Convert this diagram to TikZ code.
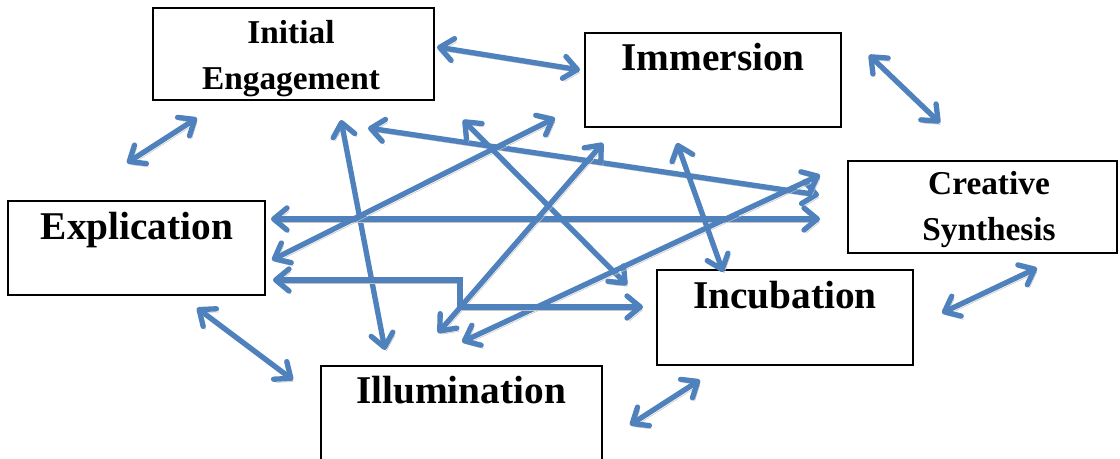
\documentclass[tikz,border=0pt]{standalone}
\usepackage{fontspec}
\setmainfont{Liberation Serif}
\usetikzlibrary{arrows.meta,fit}

\definecolor{linkblue}{HTML}{4F81BD}
\definecolor{linkshade}{HTML}{C4C4C4}

\tikzset{
  stagebox/.style={draw=black, line width=1.9pt, inner sep=0pt},
  biglabel/.style={font=\fontsize{29.5}{34}\selectfont\bfseries, inner sep=0pt, anchor=base},
  smalllabel/.style={font=\fontsize{25}{34.5}\selectfont\bfseries, inner sep=0pt, align=center},
  barb/.tip={Straight Barb[length=10pt,width=16.5pt,line width=4pt,round]},
  link/.style={draw=linkblue, line width=4pt, barb-barb,
    preaction={draw=linkshade, transform canvas={shift={(1.6pt,-2.4pt)}}}},
}

\begin{document}
\begin{tikzpicture}[x=0.75pt,y=-0.75pt]
\useasboundingbox (0,0) rectangle (1120,459);
\clip (0,0) rectangle (1120,459);

% stage boxes
\node[stagebox, fit={(153,8) (434,100)}] (ie) {};
\node[stagebox, fit={(585,33) (841,127)}] (im) {};
\node[stagebox, fit={(848,161) (1117,253)}] (cs) {};
\node[stagebox, fit={(8,201) (265,295)}] (ex) {};
\node[stagebox, fit={(657,270) (913,365)}] (ic) {};
\node[stagebox, fit={(321,366) (602,490)}] (il) {};

% stage names
\node[smalllabel] (ieT) at (291,59) {Initial\\Engagement};
\node[biglabel] (imT) at (713,71) {Immersion};
\node[smalllabel] (csT) at (989,210) {Creative\\Synthesis};
\node[biglabel] (exT) at (137,240) {Explication};
\node[biglabel] (icT) at (785,309) {Incubation};
\node[biglabel] (ilT) at (461,403) {Illumination};

% end points of the connectors
\coordinate (p1a) at (437,47);   \coordinate (p1b) at (580,70);
\coordinate (p2a) at (869,55);   \coordinate (p2b) at (940,123);
\coordinate (p3a) at (127,163);  \coordinate (p3b) at (197,118);
\coordinate (p4a) at (197,308);  \coordinate (p4b) at (293,380);
\coordinate (p5a) at (630,425);  \coordinate (p5b) at (700,380);
\coordinate (p6a) at (942,313);  \coordinate (p6b) at (1037,268);

\coordinate (q1a) at (341,120);  \coordinate (q1b) at (385,350);
\coordinate (q2a) at (368,128);  \coordinate (q2b) at (819,195);
\coordinate (q3a) at (271,219);  \coordinate (q3b) at (820,219);
\coordinate (q4a) at (272,260);  \coordinate (q4b) at (555,118);
\coordinate (q5a) at (463,120);  \coordinate (q5b) at (627,285);
\coordinate (q6a) at (438,333);  \coordinate (q6b) at (603,143);
\coordinate (q7a) at (462,342);  \coordinate (q7b) at (820,175);
\coordinate (q8a) at (273,280);  \coordinate (q8c) at (460,280);
\coordinate (q8b) at (643,307);
\coordinate (q9a) at (677,143);  \coordinate (q9b) at (723,272);

% links between neighbouring stages
\draw[link] (p1a) -- (p1b);
\draw[link] (p2a) -- (p2b);
\draw[link] (p3a) -- (p3b);
\draw[link] (p4a) -- (p4b);
\draw[link] (p5a) -- (p5b);
\draw[link] (p6a) -- (p6b);

% links across the middle
\draw[link] (q1a) -- (q1b);
\draw[link] (q2a) -- (q2b);
\draw[link] (q3a) -- (q3b);
\draw[link] (q4a) -- (q4b);
\draw[link] (q5a) -- (q5b);
\draw[link] (q6a) -- (q6b);
\draw[link] (q7a) -- (q7b);
\draw[link] (q8a) -- (q8c) |- (q8b);
\draw[link] (q9a) -- (q9b);
\end{tikzpicture}
\end{document}
